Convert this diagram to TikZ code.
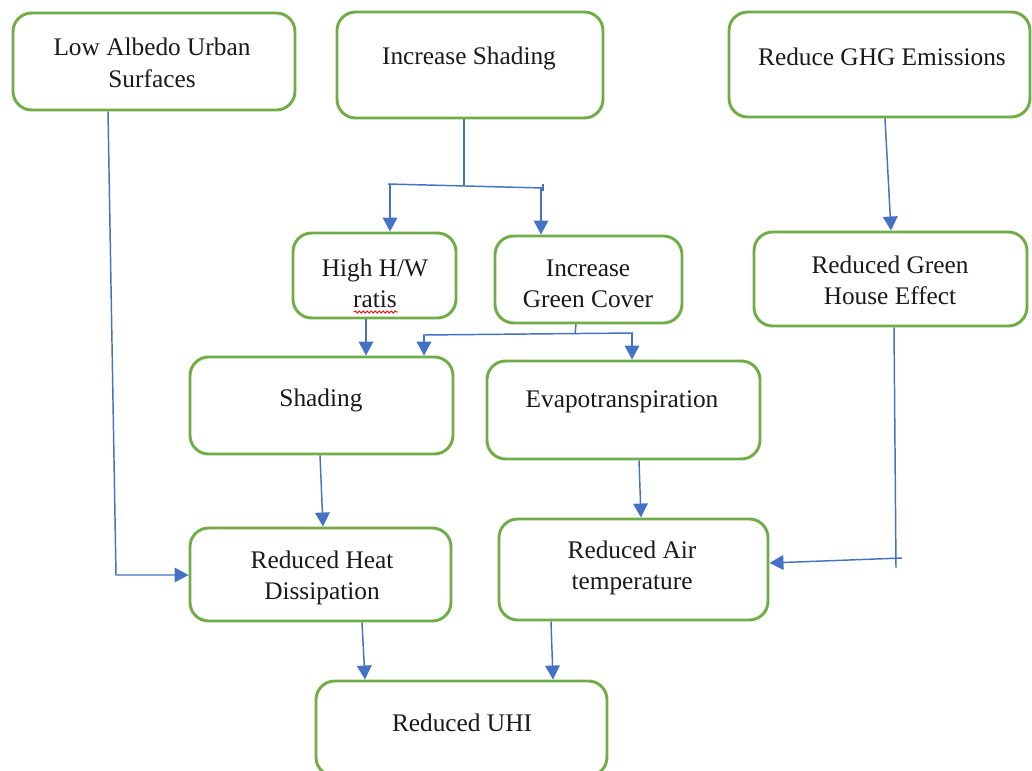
\documentclass[tikz,border=0pt]{standalone}
\usepackage{fontspec}
\setmainfont{Liberation Serif}
\usetikzlibrary{arrows.meta,fit,decorations.pathmorphing}
\definecolor{boxgreen}{HTML}{70AD47}
\definecolor{linkblue}{HTML}{4472C4}
\definecolor{txtgray}{HTML}{1A1A1A}
\begin{document}
\begin{tikzpicture}[x=0.75pt,y=-0.75pt,
  box/.style={draw=boxgreen,line width=2.2pt,rounded corners=14pt,inner sep=0pt,fill=white},
  txt/.style={align=center,text=txtgray,font=\fontsize{19}{23.5}\selectfont,inner sep=0pt},
  conn/.style={draw=linkblue,line width=1.1pt},
  arr/.style={conn,-{Triangle[length=10.5pt,width=11pt]}}]
\useasboundingbox (0,0) rectangle (1032,771);
% boxes
\node[box,fit={(13,13) (295,110)}] (b1) {};
\node[box,fit={(337,12) (603,118)}] (b2) {};
\node[box,fit={(729,12) (1030,117)}] (b3) {};
\node[box,fit={(293,233) (456,318)}] (b4) {};
\node[box,fit={(495,236) (682,323)}] (b5) {};
\node[box,fit={(754,232) (1027,326)}] (b6) {};
\node[box,fit={(190,357) (453,454)}] (b7) {};
\node[box,fit={(487,361) (760,459)}] (b8) {};
\node[box,fit={(190,528) (451,621)}] (b9) {};
\node[box,fit={(499,519) (768,620)}] (b10) {};
\node[box,fit={(316,681) (607,776)}] (b11) {};
% texts
\node[txt] (t1) at (152,63) {Low Albedo Urban\\Surfaces};
\node[txt] (t2) at (469,58) {Increase Shading};
\node[txt] (t3) at (882,57) {Reduce GHG Emissions};
\node[txt] (t4) at (375,283) {High H/W\\ratis};
\node[txt] (t5) at (588,284) {Increase\\Green Cover};
\node[txt] (t6) at (890,280) {Reduced Green\\House Effect};
\node[txt] (t7) at (321,400) {Shading};
\node[txt] (t8) at (622,402) {Evapotranspiration};
\node[txt] (t9) at (322,578) {Reduced Heat\\Dissipation};
\node[txt] (t10) at (632,568) {Reduced Air\\temperature};
\node[txt] (t11) at (462,723) {Reduced UHI};
% spell-check underline
\coordinate (u1) at (354,312);
\coordinate (u2) at (398,312);
\draw[red,line width=0.7pt,decorate,decoration={snake,amplitude=0.8pt,segment length=3pt}] (u1) -- (u2);
% connectors from Increase Shading
\coordinate (jA) at (464,186);
\coordinate (sL) at (388,184);
\coordinate (sR) at (543,188);
\coordinate (aL) at (390,184);
\coordinate (aR) at (541,188);
\draw[conn] (jA |- b2.south) -- (jA);
\draw[conn] (sL) -- (sR);
\draw[conn] (543,184) -- (543,191);
\draw[arr] (aL) -- (aL |- b4.north);
\draw[arr] (aR) -- (aR |- b5.north);
% High H/W -> Shading
\coordinate (hw) at (366,0);
\draw[arr] (hw |- b4.south) -- (hw |- b7.north);
% Increase Green Cover split
\coordinate (g1) at (576,0);
\coordinate (g2) at (575,334);
\coordinate (gL) at (423,335);
\coordinate (gR) at (633,333);
\coordinate (gaL) at (424,335);
\coordinate (gaR) at (632,333);
\draw[conn] (g1 |- b5.south) -- (g2);
\draw[conn] (gL) -- (gR);
\draw[arr] (gaL) -- (gaL |- b7.north);
\draw[arr] (gaR) -- (gaR |- b8.north);
% Shading -> Reduced Heat Dissipation
\coordinate (sh1) at (320,0);
\coordinate (sh2) at (323,0);
\draw[arr] (sh1 |- b7.south) -- (sh2 |- b9.north);
% Evapotranspiration -> Reduced Air temperature
\coordinate (ev1) at (639,0);
\coordinate (ev2) at (641,0);
\draw[arr] (ev1 |- b8.south) -- (ev2 |- b10.north);
% Reduce GHG -> Reduced Green House Effect
\coordinate (gh1) at (885,0);
\coordinate (gh2) at (891,0);
\draw[arr] (gh1 |- b3.south) -- (gh2 |- b6.north);
% Reduced Green House Effect -> Reduced Air temperature
\coordinate (ge1) at (894,0);
\coordinate (ge2) at (896,568);
\coordinate (ge3) at (902,558);
\coordinate (ge4) at (0,563);
\draw[conn] (ge1 |- b6.south) -- (ge2);
\draw[arr] (ge3) -- (b10.east |- ge4);
% Low Albedo -> Reduced Heat Dissipation
\coordinate (la1) at (108,0);
\coordinate (la2) at (116,575);
\draw[arr] (la1 |- b1.south) -- (la2) -- (b9.west |- la2);
% to Reduced UHI
\coordinate (u3) at (362,0);
\coordinate (u4) at (365,0);
\draw[arr] (u3 |- b9.south) -- (u4 |- b11.north);
\coordinate (u5) at (551,0);
\coordinate (u6) at (553,0);
\draw[arr] (u5 |- b10.south) -- (u6 |- b11.north);
\end{tikzpicture}
\end{document}
